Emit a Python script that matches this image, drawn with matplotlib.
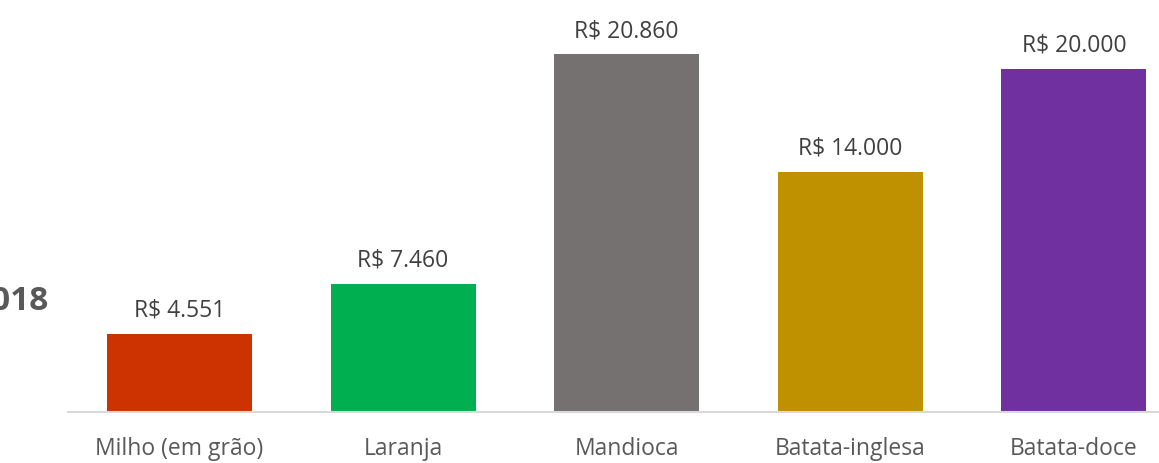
import matplotlib.pyplot as plt
import numpy as np

plt.rcParams['font.family'] = ['Open Sans', 'DejaVu Sans']

categorias = ["Milho (em grão)", "Laranja", "Mandioca", "Batata-inglesa", "Batata-doce"]
valores = [4551, 7460, 20860, 14000, 20000]
rotulos = ["R$ 4.551", "R$ 7.460", "R$ 20.860", "R$ 14.000", "R$ 20.000"]
cores = ["#CC3300", "#00B050", "#767171", "#BF9000", "#7030A0"]
ano = "2018"

W, H = 1159, 464
fig = plt.figure(figsize=(W / 100, H / 100), dpi=100)
# o eixo passa da borda direita (imagem recortada)
left, right, bottom, top = 67.7, 67.7 + 5 * 223.6, 413, 0
ax = fig.add_axes([left / W, (H - bottom) / H, (right - left) / W, (bottom - top) / H])

x = np.arange(len(categorias))
ax.bar(x, valores, width=0.648, color=cores)
for xi, v, r in zip(x, valores, rotulos):
    ax.text(xi, v + 700, r, ha="center", va="bottom", fontsize=16.5, color="#404040")

ax.set_xlim(-0.5, len(categorias) - 0.5)
ax.set_ylim(0, 24070)
ax.set_xticks(x)
ax.set_xticklabels(categorias, fontsize=16.5, color="#595959")
ax.tick_params(axis="x", length=0, pad=17)
ax.set_yticks([])
for s in ["top", "right", "left"]:
    ax.spines[s].set_visible(False)
ax.spines["bottom"].set_color("#D9D9D9")
ax.spines["bottom"].set_linewidth(1.5)

fig.text(49 / W, (H - 302) / H, ano, ha="right", va="center", fontsize=24,
         fontweight="bold", color="#595959")

fig.savefig("out.png", dpi=100)
